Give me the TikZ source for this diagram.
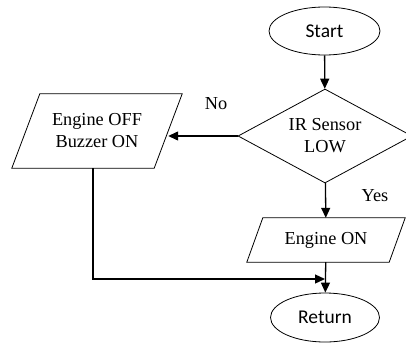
\documentclass[tikz,border=0pt]{standalone}
\usepackage{fontspec}
\setmainfont{Liberation Serif}
\newfontfamily\termfont{Carlito}
\usetikzlibrary{arrows.meta,shapes.geometric}

\tikzset{
  term/.style={ellipse, draw=black, line width=0.8pt, inner sep=0pt,
    font=\termfont\fontsize{19.5}{23}\selectfont},
  io/.style={rectangle, inner sep=0pt, align=center,
    font=\fontsize{18.3}{22}\selectfont},
  frame/.style={draw=black, line width=0.8pt, line join=miter},
  decision/.style={diamond, draw=black, line width=0.8pt, inner sep=0pt,
    aspect=1.85, align=center, font=\fontsize{18.3}{22}\selectfont},
  answer/.style={font=\fontsize{18.3}{22}\selectfont},
  flow/.style={line width=1.3pt, -{Triangle[length=10pt,width=9pt]}}
}

\begin{document}
\begin{tikzpicture}[x=1pt, y=-1pt]

\useasboundingbox (0,0) rectangle (406,343);

\node[term, minimum width=111pt, minimum height=48pt] (start) at (324.5, 31) {Start};
\node[decision, minimum width=174pt, minimum height=94pt] (sensor) at (325, 136) {IR Sensor\\LOW};
\node[io, minimum width=142pt, minimum height=74pt] (alarm) at (97, 131) {Engine OFF\\Buzzer ON};
\node[io, minimum width=142pt, minimum height=44pt] (run) at (326, 240) {Engine ON};
\node[term, minimum width=109pt, minimum height=49pt] (return) at (325, 317.5) {Return};

% slanted outlines of the two output boxes
\draw [frame] ([xshift=14pt]alarm.north west) -- ([xshift=14pt]alarm.north east)
  -- ([xshift=-14pt]alarm.south east) -- ([xshift=-14pt]alarm.south west) -- cycle;
\draw [frame] ([xshift=8pt]run.north west) -- ([xshift=8pt]run.north east)
  -- ([xshift=-8pt]run.south east) -- ([xshift=-8pt]run.south west) -- cycle;

\node[answer] (no) at (216, 104) {No};
\node[answer] (yes) at (375, 196) {Yes};

\coordinate (merge) at (325, 279);

\draw [flow] (start) -- (sensor);
\draw [flow] (sensor.west) -- (alarm.east |- sensor.west);
\draw [flow] (sensor) -- (run);
\draw [flow] (run) -- (return);
\draw [flow] ([xshift=-4pt]alarm.south) |- (merge);

\end{tikzpicture}
\end{document}
